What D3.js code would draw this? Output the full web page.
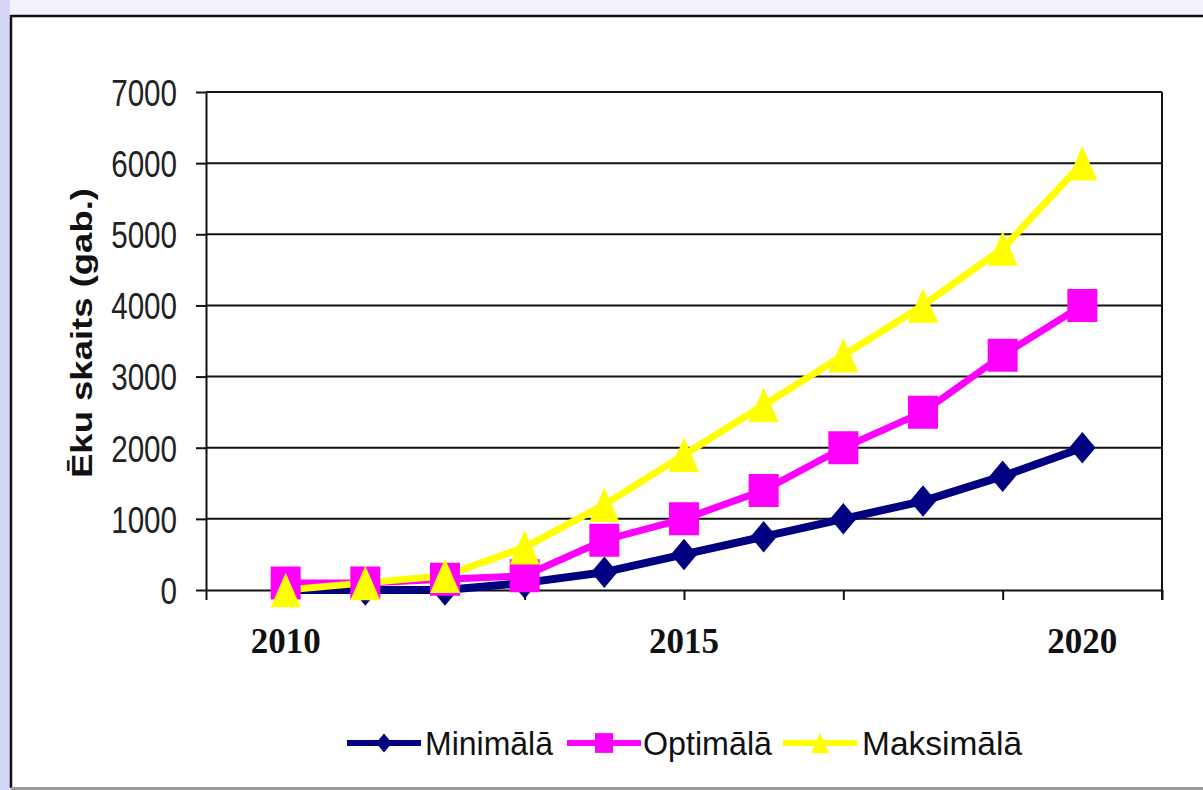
<!DOCTYPE html>
<html>
<head>
<meta charset="utf-8">
<script src="https://cdn.jsdelivr.net/npm/d3@7"></script>
<style>
  html, body { margin: 0; padding: 0; background: #eeeefc; }
  svg { display: block; }
</style>
</head>
<body>
<svg id="chart" width="1203" height="790"></svg>
<script>
// Projected number of buildings per scenario, 2010–2020
const years = [2010, 2011, 2012, 2013, 2014, 2015, 2016, 2017, 2018, 2019, 2020];
const minimala = [0, 0, 0, 100, 250, 500, 750, 1000, 1250, 1600, 2000];
const optimala = [100, 100, 150, 200, 700, 1000, 1400, 2000, 2500, 3300, 4000];
const maksimala = [0, 100, 200, 600, 1200, 1900, 2600, 3300, 4000, 4800, 6000];

const seriesNames = ["Minimālā", "Optimālā", "Maksimālā"];
const yTicks = [0, 1000, 2000, 3000, 4000, 5000, 6000, 7000];
const xTickMarks = [2009, 2011, 2013, 2015, 2017, 2019, 2021];
const xLabels = [2010, 2015, 2020];
const yTitle = "Ēku skaits (gab.)";

const series = [
  { name: seriesNames[0], values: minimala, color: "#000080", width: 8, shape: "diamond" },
  { name: seriesNames[1], values: optimala, color: "#ff00ff", width: 7, shape: "square" },
  { name: seriesNames[2], values: maksimala, color: "#ffff00", width: 7, shape: "triangle" }
];

const svg = d3.select("#chart");

// page frame
svg.append("rect").attr("x", 0).attr("y", 0).attr("width", 1203).attr("height", 790).attr("fill", "#f2f2fd");
svg.append("rect").attr("x", 0).attr("y", 0).attr("width", 10).attr("height", 790).attr("fill", "#d6d6f6");
svg.append("rect").attr("x", 11).attr("y", 16).attr("width", 1192).attr("height", 772).attr("fill", "#ffffff");
svg.append("line").attr("x1", 11).attr("x2", 1203).attr("y1", 16).attr("y2", 16).attr("stroke", "#111").attr("stroke-width", 2.5);
svg.append("line").attr("x1", 11).attr("x2", 11).attr("y1", 15).attr("y2", 788).attr("stroke", "#111").attr("stroke-width", 2.5);
svg.append("line").attr("x1", 11).attr("x2", 1203).attr("y1", 788.5).attr("y2", 788.5).attr("stroke", "#999").attr("stroke-width", 3);

const plotLeft = 206, plotRight = 1162, plotTop = 92, plotBottom = 590;
const x = d3.scaleLinear().domain([2009, 2021]).range([plotLeft, plotRight]);
const y = d3.scaleLinear().domain([0, 7000]).range([plotBottom, plotTop]);

// horizontal gridlines
svg.append("g").selectAll("line").data(yTicks.slice(1)).join("line")
  .attr("x1", plotLeft).attr("x2", plotRight)
  .attr("y1", d => y(d)).attr("y2", d => y(d))
  .attr("stroke", "#111").attr("stroke-width", 2);

// right edge of plot area
svg.append("line").attr("x1", plotRight).attr("x2", plotRight).attr("y1", plotTop).attr("y2", plotBottom + 10)
  .attr("stroke", "#111").attr("stroke-width", 2);

// y axis
const yAxis = svg.append("g").attr("transform", `translate(${plotLeft},0)`)
  .call(d3.axisLeft(y).tickValues(yTicks).tickSize(10).tickSizeOuter(0).tickFormat(d3.format("d")));
yAxis.select(".domain").attr("stroke", "#111").attr("stroke-width", 2);
yAxis.selectAll(".tick line").attr("stroke", "#111").attr("stroke-width", 2);
yAxis.selectAll(".tick text")
  .attr("font-family", "'Liberation Sans', Arial, sans-serif")
  .attr("font-size", 37).attr("fill", "#222")
  .attr("dy", "0.36em")
  .attr("x", -29 / 0.8)
  .attr("transform", "scale(0.8,1)");

// x axis (tick marks only)
const xAxis = svg.append("g").attr("transform", `translate(0,${plotBottom})`)
  .call(d3.axisBottom(x).tickValues(xTickMarks).tickSize(10).tickSizeOuter(0).tickFormat(""));
xAxis.select(".domain").attr("stroke", "#111").attr("stroke-width", 2);
xAxis.selectAll(".tick line").attr("stroke", "#111").attr("stroke-width", 2);

// x labels
svg.append("g").selectAll("text").data(xLabels).join("text")
  .attr("x", d => x(d)).attr("y", 653)
  .attr("text-anchor", "middle")
  .attr("font-family", "'Liberation Serif', 'Times New Roman', serif")
  .attr("font-weight", "bold").attr("font-size", 35).attr("fill", "#111")
  .text(d => d);

// y title
svg.append("text")
  .attr("transform", "translate(92,333) rotate(-90)")
  .attr("text-anchor", "middle")
  .attr("font-family", "'Liberation Sans', Arial, sans-serif")
  .attr("font-weight", "bold").attr("font-size", 30).attr("fill", "#111")
  .attr("textLength", 290).attr("lengthAdjust", "spacingAndGlyphs")
  .text(yTitle);

// marker shapes centred on their bounding box
function markerPath(shape, s) {
  if (shape === "diamond") {
    const w = s * 0.88, h = s * 1.05;
    return `M0,${-h / 2}L${w / 2},0L0,${h / 2}L${-w / 2},0Z`;
  }
  if (shape === "square") {
    const w = s, h = s * 1.1;
    return `M${-w / 2},${-h / 2}h${w}v${h}h${-w}Z`;
  }
  const w = s, h = s * 1.15;
  return `M0,${-h / 2}L${w / 2},${h / 2}L${-w / 2},${h / 2}Z`;
}

const line = d3.line().x((d, i) => x(years[i])).y(d => y(d));

// lines
svg.append("g").selectAll("path").data(series).join("path")
  .attr("d", s => line(s.values))
  .attr("fill", "none")
  .attr("stroke", s => s.color)
  .attr("stroke-width", s => s.width)
  .attr("stroke-linejoin", "round");

// markers
series.forEach(s => {
  svg.append("g").selectAll("path").data(s.values).join("path")
    .attr("transform", (d, i) => `translate(${x(years[i])},${y(d)})`)
    .attr("d", markerPath(s.shape, 30))
    .attr("fill", s.color);
});

// legend
const legendItems = [
  { s: series[0], lx: 347, tx: 425, tw: 128 },
  { s: series[1], lx: 567, tx: 643, tw: 129 },
  { s: series[2], lx: 783, tx: 862, tw: 160 }
];
const ly = 743;
const lg = svg.append("g");
legendItems.forEach(it => {
  lg.append("line").attr("x1", it.lx).attr("x2", it.lx + 74).attr("y1", ly).attr("y2", ly)
    .attr("stroke", it.s.color).attr("stroke-width", 6);
  lg.append("path").attr("transform", `translate(${it.lx + 37},${ly})`)
    .attr("d", markerPath(it.s.shape, 18)).attr("fill", it.s.color);
  lg.append("text").attr("x", it.tx).attr("y", ly).attr("dy", "0.36em")
    .attr("font-family", "'Liberation Sans', Arial, sans-serif")
    .attr("font-size", 34).attr("fill", "#111")
    .attr("textLength", it.tw).attr("lengthAdjust", "spacingAndGlyphs")
    .text(it.s.name);
});
</script>
</body>
</html>
